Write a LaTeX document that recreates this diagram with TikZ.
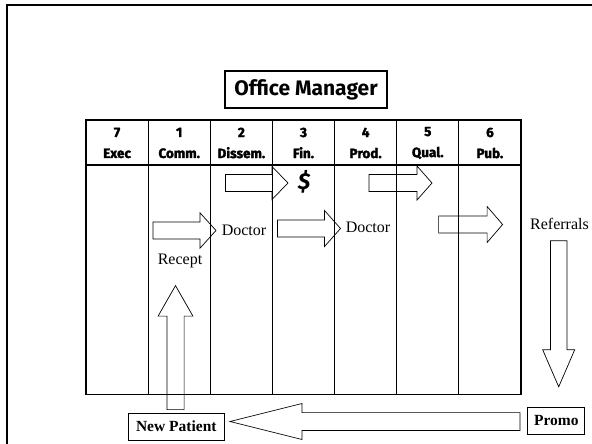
\documentclass[tikz,border=0pt]{standalone}
\usepackage{fontspec}
\setmainfont{Liberation Serif}
\newfontfamily\headfont{Fira Sans}
\newfontfamily\heavyfont[BoldFeatures={FakeBold=2}]{Fira Sans}
\usetikzlibrary{positioning}

\tikzset{
  barrow/.style={draw, line width=0.7pt},
  pics/blockarrow/.style n args={4}{code={
      \draw[barrow] (0,-#2) -- ({#1-#4},-#2) -- ({#1-#4},-#3) -- (#1,0)
        -- ({#1-#4},#3) -- ({#1-#4},#2) -- (0,#2) -- cycle;
  }},
  tableline/.style={line width=1.2pt},
  colhead/.style={font=\heavyfont\bfseries\fontsize{13.5}{21}\selectfont, align=center},
  flowtext/.style={font=\fontsize{16}{18}\selectfont},
  tagbox/.style={draw, line width=0.9pt, font=\bfseries\fontsize{15.5}{17}\selectfont,
    inner sep=0pt, minimum height=27pt},
}

\begin{document}
\begin{tikzpicture}[x=1pt, y=-1pt]
        \useasboundingbox (0,0) rectangle (592,444);
        %outer frame
        \draw[line width=2pt] (7,5) rectangle (640,480);

        %title
        \node[draw, line width=1.1pt, font=\headfont\bfseries\fontsize{21}{24}\selectfont,
          minimum width=162pt, minimum height=37pt, inner sep=0pt] (manager) at (306,89.5) {Office Manager};

        %table
        \draw[tableline] (86,120) rectangle (521,394.5);
        \draw[tableline] (86,165) -- (521,165);
        \foreach \i in {1,...,6}
          \draw[tableline] ({86+62.14*\i},120) -- ({86+62.14*\i},394.5);
        \foreach \num/\name [count=\i from 0] in {7/Exec,1/Comm.,2/Dissem.,3/Fin.,4/Prod.,5/Qual.,6/Pub.}
          \node[colhead] (head\num) at ({117.07+62.14*\i},143) {\num\\\name};

        %labels
        \node[font=\heavyfont\bfseries\itshape\fontsize{23}{25}\selectfont] (dollar) at (304,182) {\$};
        \node[flowtext] (doctor1) at (244,230) {Doctor};
        \node[flowtext] (doctor2) at (368,227) {Doctor};
        \node[flowtext] (recept) at (180,260.5) {Recept};
        \node[flowtext] (referrals) at (559.5,223.5) {Referrals};
        \node[tagbox, minimum width=96pt] (newpatient) at (176.3,426.5) {New Patient};
        \node[tagbox, minimum width=57pt] (promo) at (556.4,420.5) {Promo};

        %block arrows
        \pic at (225.4,183) {blockarrow={62.6}{8.5}{16.5}{16}};
        \pic at (369,183) {blockarrow={63}{8.5}{17}{15}};
        \pic at (153,230.5) {blockarrow={63}{8.5}{17.7}{16}};
        \pic at (277.5,228.5) {blockarrow={63}{8.5}{18}{16}};
        \pic at (438.6,224.5) {blockarrow={64}{8.5}{18}{15.5}};
        \pic[rotate=90] at (175.5,409.6) {blockarrow={124}{8.6}{17.4}{30.5}};
        \pic[rotate=-90] at (558.7,240.8) {blockarrow={146}{8.3}{16}{37}};
        \pic[rotate=180] at (520,421.5) {blockarrow={290}{8.9}{18}{72}};
    \end{tikzpicture}
\end{document}
